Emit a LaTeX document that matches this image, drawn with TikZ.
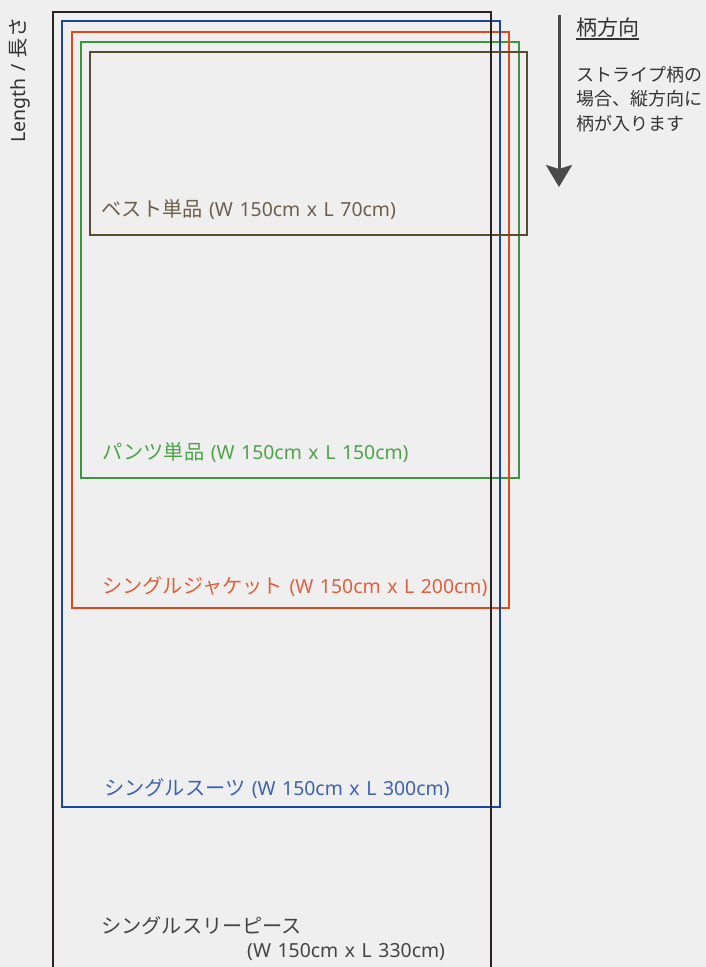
\documentclass[tikz,border=0pt]{standalone}
\usepackage{fontspec}
\setmainfont{Noto Sans}[WordSpace=1.3]
\newfontfamily\jp{Noto Sans CJK JP}
\usetikzlibrary{arrows.meta}
\definecolor{bgc}{RGB}{239,239,239}
\definecolor{cblack}{RGB}{43,35,33}
\definecolor{cblue}{RGB}{28,69,160}
\definecolor{cred}{RGB}{220,74,30}
\definecolor{cgreen}{RGB}{60,150,60}
\definecolor{cbrown}{RGB}{95,74,44}
\definecolor{tbrown}{RGB}{110,94,74}
\definecolor{tgreen}{RGB}{78,163,74}
\definecolor{tred}{RGB}{224,96,58}
\definecolor{tblue}{RGB}{60,98,176}
\definecolor{tgray}{RGB}{68,68,68}
\definecolor{tdark}{RGB}{51,51,51}
\definecolor{arrc}{RGB}{74,74,74}
\tikzset{
  boxline/.style={line width=2.3pt},
  lbl/.style={inner sep=0pt, anchor=base west, font=\fontsize{19.4}{22}\selectfont},
  jpt/.style={inner sep=0pt, anchor=base west, font=\jp\fontsize{18}{22}\selectfont, text=tdark},
}
\newcommand{\J}[1]{{\jp\fontsize{20.2}{24}\selectfont #1}}
\begin{document}
\begin{tikzpicture}[x=1pt,y=-1pt]
\useasboundingbox (0,0) rectangle (706,967);
\fill[bgc] (0,0) rectangle (706,967);
% boxes
\draw[boxline, cgreen] (81,42) rectangle (519,478);
\draw[boxline, cred] (72,32) rectangle (509,608);
\draw[boxline, cblue] (62,21) rectangle (500,807);
\draw[boxline, cbrown] (90,52) rectangle (527,235);
\begin{scope}
\clip (0,0) rectangle (706,967);
\draw[boxline, cblack] (53,12) rectangle (491,990);
\end{scope}
% labels
\node[lbl, text=tbrown] (lvest) at (101,216) {\J{ベスト単品} (W 150cm x L 70cm)};
\node[lbl, text=tgreen] (lpants) at (102,459) {\J{パンツ単品} (W 150cm x L 150cm)};
\node[lbl, text=tred] (ljacket) at (102,593) {\J{シングルジャケット} (W 150cm x L 200cm)};
\node[lbl, text=tblue] (lsuit) at (104,795) {\J{シングルスーツ} (W 150cm x L 300cm)};
\node[lbl, text=tgray] (lthree) at (101,933) {\J{シングルスリーピース}};
\node[lbl, text=tgray] (lthreesize) at (247,957) {(W 150cm x L 330cm)};
% side label
\node[lbl, text=tdark, rotate=90, font=\fontsize{19.5}{22}\selectfont] (llength) at (25,143) {Length / \J{長さ}};
% arrow
\coordinate (arrs) at (559,15);
\coordinate (arre) at (559,187);
\draw[arrc, line width=3pt, -{Stealth[length=22pt,width=26pt,inset=4pt]}] (arrs) -- (arre);
% direction text
\node[jpt, font=\jp\fontsize{21}{24}\selectfont] (title) at (576,35) {柄方向};
\draw[tdark, line width=1.2pt] ([yshift=-4pt]title.base west) -- ([yshift=-4pt]title.base east);
\node[jpt] (d1) at (576,81) {ストライプ柄の};
\node[jpt] (d2) at (576,105.5) {場合、縦方向に};
\node[jpt] (d3) at (576,130) {柄が入ります};
\end{tikzpicture}
\end{document}
